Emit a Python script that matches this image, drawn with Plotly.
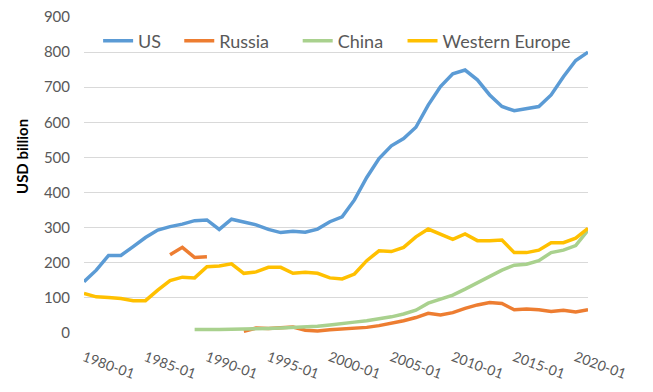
import plotly.graph_objects as go

years = list(range(1980, 2022))
categories = [f"{y}-01" for y in years]

us = [146, 179, 221, 221, 246, 272, 293, 303, 310, 320, 322,
      295, 324, 317, 308, 295, 286, 290, 287, 296, 317,
      331, 379, 443, 497, 533, 554, 586, 649, 702, 738,
      749, 721, 678, 645, 633, 638, 645, 678, 730, 776, 800]

russia = [None, None, None, None, None, None, None, 223, 244, 215, 217,
          None, None, 5, 14, 13, 16, 17, 8, 6, 9,
          11, 13, 16, 21, 27, 35, 44, 56, 51, 58,
          70, 80, 87, 84, 66, 68, 66, 61, 65, 60, 66]

china = [None, None, None, None, None, None, None, None, None, 10, 9,
         10, 11, 11, 12, 13, 14, 15, 16, 19, 23,
         28, 31, 35, 40, 46, 54, 65, 85, 96, 108,
         125, 143, 160, 179, 193, 196, 206, 229, 236, 249, 293]

w_europe = [113, 103, 101, 98, 92, 92, 122, 149, 159, 157, 189,
            191, 197, 170, 174, 187, 187, 170, 173, 170, 157,
            154, 168, 206, 234, 232, 244, 274, 296, 281, 267,
            282, 263, 263, 265, 229, 229, 236, 257, 257, 270, 298]

series = [
    ("US", us, "#5B9BD5"),
    ("Russia", russia, "#ED7D31"),
    ("China", china, "#A9D18E"),
    ("Western Europe", w_europe, "#FFC000"),
]
legend_x = [0.028, 0.189, 0.424, 0.632]

font_family = "Lato, Carlito, Calibri, sans-serif"

fig = go.Figure()
legend_ids = ["legend", "legend2", "legend3", "legend4"]
for (name, vals, color), lid in zip(series, legend_ids):
    fig.add_trace(go.Scatter(
        x=categories, y=vals, name=name, mode="lines",
        line=dict(color=color, width=3.5), connectgaps=False,
        legend=lid,
    ))

layout_kw = {}
for lid, lx in zip(legend_ids, legend_x):
    layout_kw[lid] = dict(
        orientation="h", x=lx, y=0.924, xanchor="left", yanchor="middle",
        font=dict(size=18, color="#595959", family=font_family),
        bgcolor="rgba(0,0,0,0)",
    )

fig.update_layout(
    width=653, height=392,
    margin=dict(l=84, r=65, t=17, b=59),
    paper_bgcolor="white", plot_bgcolor="white",
    font=dict(family=font_family, color="#595959", size=14),
    showlegend=True,
    xaxis=dict(
        type="category", range=[0, 41], tickmode="linear", tick0=0, dtick=5,
        tickangle=20, showgrid=False, showline=False, ticks="",
        ticklabelstandoff=13, automargin=False,
        tickfont=dict(size=14, color="#595959"),
    ),
    yaxis=dict(
        range=[0, 900], dtick=100, showgrid=True, gridcolor="#D9D9D9",
        gridwidth=1, zeroline=False, showline=False, ticks="",
        automargin=False, ticklabelstandoff=13,
        tickfont=dict(size=15, color="#595959"),
    ),
    annotations=[dict(
        text="<b>USD billion</b>", textangle=-90, showarrow=False,
        xref="paper", yref="paper", x=-0.123, y=0.557,
        xanchor="center", yanchor="middle",
        font=dict(size=15, color="black", family=font_family),
    )],
    **layout_kw,
)

fig.write_html("out.html", config={"displayModeBar": False},
               post_script="document.body.style.margin='0';")
